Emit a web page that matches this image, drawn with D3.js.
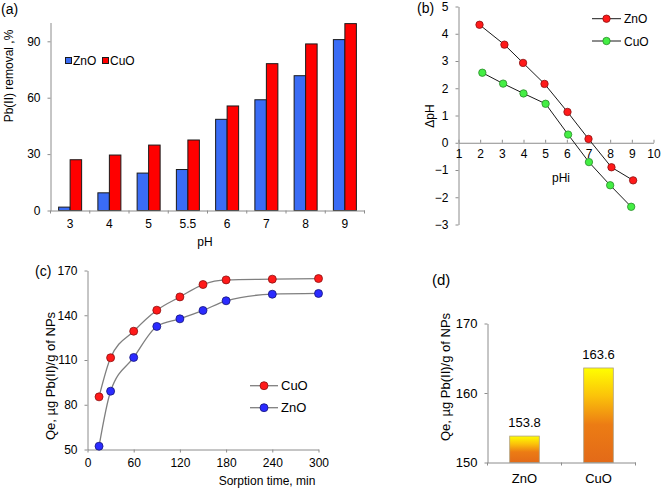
<!DOCTYPE html>
<html><head><meta charset="utf-8">
<script src="https://cdn.jsdelivr.net/npm/d3@7"></script>
<style>
body{margin:0;background:#fff}
svg{display:block}
text{font-family:"Liberation Sans",Arial,sans-serif;fill:#000}
</style></head><body>
<svg id="c" width="661" height="489"></svg>
<script>
// ---- data ----
// (a)
const pHCats = ["3","4","5","5.5","6","7","8","9"];
const removalZnO = [1.8, 9.4, 19.9, 21.8, 48.5, 58.9, 71.7, 90.9];
const removalCuO = [27.0, 29.5, 34.8, 37.5, 55.6, 78.1, 88.6, 99.4];
const aYTicks = [0, 30, 60, 90];
// (b)
const pHi_ZnO = [1.97, 3.12, 3.98, 4.97, 6.03, 7.0, 8.06, 9.06];
const dpH_ZnO = [4.33, 3.60, 2.93, 2.16, 1.13, 0.14, -0.90, -1.38];
const pHi_CuO = [2.1, 3.06, 4.0, 5.02, 6.06, 7.02, 8.0, 8.97];
const dpH_CuO = [2.57, 2.17, 1.81, 1.43, 0.30, -0.71, -1.56, -2.35];
const bXTicks = [1,2,3,4,5,6,7,8,9,10];
const bYTicks = [-3,-2,-1,0,1,2,3,4,5];
// (c)
const timeMin = [15, 30, 60, 90, 120, 150, 180, 240, 300];
const qeCuO = [85.3, 111.5, 129.3, 143.4, 152.3, 160.6, 163.7, 164.2, 164.6];
const qeZnO = [52.2, 89.1, 111.7, 132.5, 137.6, 143.2, 149.7, 154.1, 154.6];
const cXTicks = [0, 60, 120, 180, 240, 300];
const cYTicks = [50, 80, 110, 140, 170];
// (d)
const dCats = ["ZnO", "CuO"];
const dValues = [153.8, 163.6];
const dYTicks = [150, 160, 170];

const svg = d3.select("#c");
const AX = "#8c8c8c";
const FS = 12;

function styleAxis(g){
  g.selectAll(".domain").attr("stroke", AX).attr("stroke-width",1);
  g.selectAll(".tick line").attr("stroke", AX);
  g.selectAll(".tick text").attr("font-size", FS).attr("font-family","Liberation Sans, Arial, sans-serif").attr("fill","#000");
}
function label(x,y,txt,opts={}){
  const t = svg.append("text").attr("x",x).attr("y",y).text(txt)
    .attr("font-size", opts.fs||FS).attr("text-anchor", opts.anchor||"start");
  if(opts.rot) t.attr("transform",`rotate(-90,${x},${y})`);
  return t;
}

// ===== (a) =====
{
  const x = d3.scaleBand().domain(pHCats).range([50.5, 364.5]);
  const y = d3.scaleLinear().domain([0,100]).range([210.5, 22.5]);
  const bw = 11.5;
  const g = svg.append("g");
  g.selectAll("rect.zn").data(pHCats).join("rect")
    .attr("x", d => x(d)+x.bandwidth()/2 - bw)
    .attr("y", (d,i) => y(removalZnO[i]))
    .attr("width", bw).attr("height", (d,i) => y(0)-y(removalZnO[i]))
    .attr("fill","#3a6cf5").attr("stroke","#1a1a1a").attr("stroke-width",1);
  g.selectAll("rect.cu").data(pHCats).join("rect")
    .attr("x", d => x(d)+x.bandwidth()/2)
    .attr("y", (d,i) => y(removalCuO[i]))
    .attr("width", bw).attr("height", (d,i) => y(0)-y(removalCuO[i]))
    .attr("fill","#ff0000").attr("stroke","#1a1a1a").attr("stroke-width",1);
  const ya = svg.append("g").attr("transform","translate(50.5,0)")
    .call(d3.axisLeft(y).tickValues(aYTicks).tickSize(3).tickPadding(7).tickSizeOuter(0));
  styleAxis(ya);
  const xa = svg.append("g").attr("transform",`translate(0,${y(0)})`)
    .call(d3.axisBottom(x).tickSize(0).tickPadding(9));
  styleAxis(xa);
  // band boundary ticks
  svg.append("g").selectAll("line").data(pHCats.concat(["end"])).join("line")
    .attr("x1",(d,i)=> i<pHCats.length ? x(d) : x.range()[1]).attr("x2",(d,i)=> i<pHCats.length ? x(d) : x.range()[1])
    .attr("y1", y(0)).attr("y2", y(0)+3).attr("stroke",AX);
  // legend
  svg.append("rect").attr("x",65.5).attr("y",57.5).attr("width",6).attr("height",6).attr("fill","#3a6cf5").attr("stroke","#1a1a1a");
  label(73, 65, "ZnO");
  svg.append("rect").attr("x",102.5).attr("y",57.5).attr("width",6).attr("height",6).attr("fill","#ff0000").attr("stroke","#1a1a1a");
  label(110, 65, "CuO");
  label(13, 76, "Pb(II)  removal ,%", {anchor:"middle", rot:true});
  label(205, 246, "pH", {anchor:"middle"});
  label(1, 14, "(a)", {fs:14});
}

// ===== (b) =====
{
  const x = d3.scaleLinear().domain([1,10]).range([458.5, 653.5]);
  const y = d3.scaleLinear().domain([-3,5]).range([224.5, 6.5]);
  const ya = svg.append("g").attr("transform",`translate(${x(1)},0)`)
    .call(d3.axisLeft(y).tickValues(bYTicks).tickSize(3).tickPadding(7).tickSizeOuter(0));
  styleAxis(ya);
  const xa = svg.append("g").attr("transform",`translate(0,${y(0)})`)
    .call(d3.axisTop(x).tickValues(bXTicks).tickSize(3).tickSizeOuter(0));
  styleAxis(xa);
  xa.selectAll(".tick text").attr("y", 15);
  const line = d3.line().x(d=>x(d[0])).y(d=>y(d[1]));
  const zn = pHi_ZnO.map((v,i)=>[v,dpH_ZnO[i]]);
  const cu = pHi_CuO.map((v,i)=>[v,dpH_CuO[i]]);
  svg.append("path").attr("d",line(zn)).attr("fill","none").attr("stroke","#1a1a1a").attr("stroke-width",1);
  svg.append("path").attr("d",line(cu)).attr("fill","none").attr("stroke","#1a1a1a").attr("stroke-width",1);
  svg.append("g").selectAll("circle").data(zn).join("circle")
    .attr("cx",d=>x(d[0])).attr("cy",d=>y(d[1])).attr("r",3.7)
    .attr("fill","#ff1a1a").attr("stroke","#8a1010").attr("stroke-width",0.8);
  svg.append("g").selectAll("circle").data(cu).join("circle")
    .attr("cx",d=>x(d[0])).attr("cy",d=>y(d[1])).attr("r",3.7)
    .attr("fill","#44ee44").attr("stroke","#2a8a2a").attr("stroke-width",0.8);
  // legend
  [[18.7,"ZnO","#ff1a1a","#8a1010"],[41,"CuO","#44ee44","#2a8a2a"]].forEach(([ly,t,f,s])=>{
    svg.append("line").attr("x1",592).attr("x2",621).attr("y1",ly).attr("y2",ly).attr("stroke","#1a1a1a");
    svg.append("circle").attr("cx",606.5).attr("cy",ly).attr("r",3.7).attr("fill",f).attr("stroke",s).attr("stroke-width",0.8);
    label(624, ly+4.5, t);
  });
  label(434, 116, "ΔpH", {anchor:"middle", rot:true});
  label(561, 182, "pHi", {anchor:"middle"});
  label(417, 13, "(b)", {fs:14});
}

// ===== (c) =====
{
  const x = d3.scaleLinear().domain([0,300]).range([87.5, 318.5]);
  const y = d3.scaleLinear().domain([50,170]).range([449.5, 270.5]);
  const ya = svg.append("g").attr("transform",`translate(${x(0)},0)`)
    .call(d3.axisLeft(y).tickValues(cYTicks).tickSize(3).tickPadding(7).tickSizeOuter(0));
  styleAxis(ya);
  const xa = svg.append("g").attr("transform",`translate(0,${y(50)})`)
    .call(d3.axisBottom(x).tickValues(cXTicks).tickSize(3).tickPadding(6).tickSizeOuter(0));
  styleAxis(xa);
  const line = d3.line().x(d=>x(d[0])).y(d=>y(d[1])).curve(d3.curveMonotoneX);
  const cu = timeMin.map((t,i)=>[t,qeCuO[i]]);
  const zn = timeMin.map((t,i)=>[t,qeZnO[i]]);
  svg.append("path").attr("d",line(cu)).attr("fill","none").attr("stroke","#7f7f7f").attr("stroke-width",1.3);
  svg.append("path").attr("d",line(zn)).attr("fill","none").attr("stroke","#7f7f7f").attr("stroke-width",1.3);
  svg.append("g").selectAll("circle").data(cu).join("circle")
    .attr("cx",d=>x(d[0])).attr("cy",d=>y(d[1])).attr("r",4)
    .attr("fill","#ff1a1a").attr("stroke","#8a1010").attr("stroke-width",0.8);
  svg.append("g").selectAll("circle").data(zn).join("circle")
    .attr("cx",d=>x(d[0])).attr("cy",d=>y(d[1])).attr("r",4)
    .attr("fill","#2b2bff").attr("stroke","#15157a").attr("stroke-width",0.8);
  [[385.7,"CuO","#ff1a1a","#8a1010"],[407.7,"ZnO","#2b2bff","#15157a"]].forEach(([ly,t,f,s])=>{
    svg.append("line").attr("x1",250).attr("x2",278).attr("y1",ly).attr("y2",ly).attr("stroke","#7f7f7f").attr("stroke-width",1.3);
    svg.append("circle").attr("cx",264).attr("cy",ly).attr("r",4).attr("fill",f).attr("stroke",s).attr("stroke-width",0.8);
    label(281, ly+4.5, t, {fs:13});
  });
  label(55, 376, "Qe, µg Pb(II)/g of NPs", {anchor:"middle", rot:true, fs:13});
  label(267, 485, "Sorption time, min", {anchor:"middle"});
  label(35, 276, "(c)", {fs:14});
}

// ===== (d) =====
{
  const x = d3.scaleBand().domain(dCats).range([487.5, 635.5]).paddingInner(0.6).paddingOuter(0.3);
  const y = d3.scaleLinear().domain([150,170]).range([462.5, 323.5]);
  const defs = svg.append("defs");
  const grad = defs.append("linearGradient").attr("id","gd").attr("x1",0).attr("y1",0).attr("x2",0).attr("y2",1);
  grad.append("stop").attr("offset","0%").attr("stop-color","#ffff00");
  grad.append("stop").attr("offset","30%").attr("stop-color","#fbc20a");
  grad.append("stop").attr("offset","60%").attr("stop-color","#ec7c14");
  grad.append("stop").attr("offset","100%").attr("stop-color","#e36a18");
  svg.append("g").selectAll("rect").data(dCats).join("rect")
    .attr("x", d=>x(d)).attr("y",(d,i)=>y(dValues[i]))
    .attr("width", x.bandwidth()).attr("height",(d,i)=>y(150)-y(dValues[i]))
    .attr("fill","url(#gd)").attr("stroke","#b0a080").attr("stroke-width",0.8);
  svg.append("g").selectAll("text").data(dCats).join("text")
    .attr("x", d=>x(d)+x.bandwidth()/2).attr("y",(d,i)=>y(dValues[i])-9)
    .attr("text-anchor","middle").attr("font-size",13).text((d,i)=>dValues[i].toFixed(1));
  const ya = svg.append("g").attr("transform","translate(487.5,0)")
    .call(d3.axisLeft(y).tickValues(dYTicks).tickSize(3).tickPadding(7).tickSizeOuter(0));
  styleAxis(ya);
  ya.selectAll(".tick text").attr("font-size",13);
  const xa = svg.append("g").attr("transform",`translate(0,${y(150)})`)
    .call(d3.axisBottom(x).tickSize(0).tickPadding(11).tickSizeOuter(0));
  styleAxis(xa);
  xa.selectAll(".tick text").attr("font-size",13);
  svg.append("g").selectAll("line").data([487.5, 561.5, 635.5]).join("line")
    .attr("x1",d=>d).attr("x2",d=>d).attr("y1",y(150)).attr("y2",y(150)+3).attr("stroke",AX);
  label(450, 377, "Qe, µg Pb(II)/g of NPs", {anchor:"middle", rot:true, fs:13});
  label(432, 285, "(d)", {fs:15});
}
</script></body></html>
